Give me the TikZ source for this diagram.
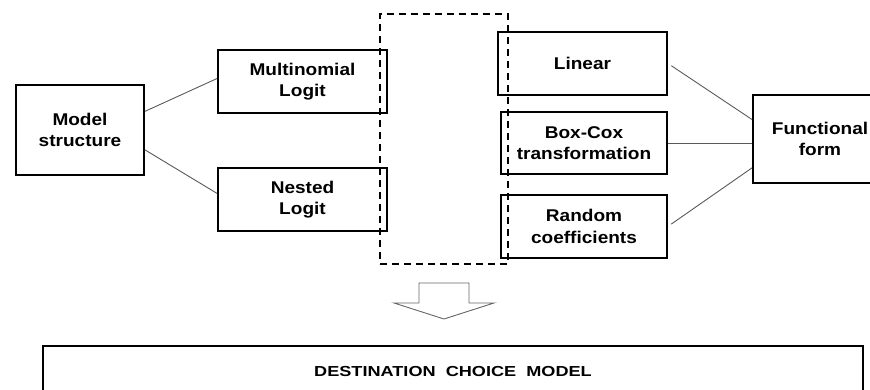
\documentclass[tikz,border=0pt]{standalone}
\usepackage{fontspec}
\setmainfont{Liberation Sans}[FakeStretch=1.12]
\newfontfamily\widefont{Liberation Sans}[FakeStretch=1.25]
\usepackage{tikz}
\usetikzlibrary{arrows.meta,calc}
\usetikzlibrary{positioning}

\begin{document}
\begin{tikzpicture}[x=1pt,y=1pt,>=Latex]
	\tikzstyle{box}=[draw,line width=1.9pt,align=center,inner sep=0pt,font=\fontsize{17}{21.5}\selectfont\bfseries]
	\tikzstyle{link}=[draw=black!65,line width=0.9pt]
	\tikzstyle{group}=[draw,line width=1.7pt,dash pattern=on 7pt off 5pt,inner sep=0pt]
	\clip (0,0) rectangle (870,390);
	% left side
	\node[box,minimum width=128,minimum height=90] (ms) at (80,260) {Model\\structure};
	\node[box,minimum width=169,minimum height=63] (mnl) at (302.5,308.5) {Multinomial\\Logit};
	\node[box,minimum width=169,minimum height=63,below=53 of mnl] (nl) {Nested\\Logit};
	% right side
	\node[box,minimum width=169,minimum height=63] (lin) at (582.5,326.5) {Linear};
	\node[box,minimum width=166,minimum height=62] (bc) at (584,247) {Box-Cox\\transformation};
	\node[box,minimum width=166,minimum height=63,below=19 of bc] (rc) {Random\\coefficients};
	\node[box,minimum width=134,minimum height=88] (ff) at (820,251) {Functional\\form};
	% result
	\node[box,minimum width=820,minimum height=52,font=\fontsize{14.5}{16}\selectfont\widefont\bfseries] (dcm) at (453,18) {DESTINATION\ \ CHOICE\ \ MODEL};
	\node[group,minimum width=128,minimum height=250] (grp) at (444,251) {};
	\draw[link] (ms.16) -- (mnl.178);
	\draw[link] (ms.-17) -- (nl.176);
	\draw[link,shorten <=4pt] (lin.east) -- (ff.164);
	\draw[link] (bc.east) -- (bc.east -| ff.west);
	\draw[link,shorten <=4pt] (rc.east) -- (ff.203);
	% hollow arrow
	\coordinate (tip) at (444,71);
	\draw[black!60,line width=0.9pt,line join=miter] (419,107) -- (469,107) -- (469,87) -- (494,87) -- (tip) -- (394,87) -- (419,87) -- cycle;
\end{tikzpicture}
\end{document}
